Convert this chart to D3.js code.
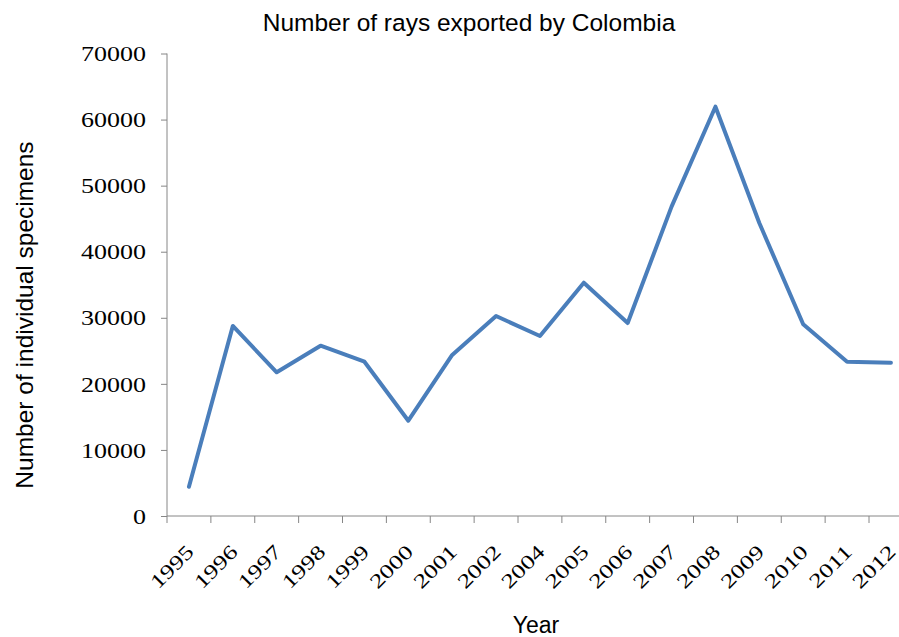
<!DOCTYPE html>
<html>
<head>
<meta charset="utf-8">
<script src="https://cdn.jsdelivr.net/npm/d3@7"></script>
<style>
  html, body { margin: 0; padding: 0; background: #fff; }
  svg { display: block; }
</style>
</head>
<body>
<svg id="chart" width="899" height="637"></svg>
<script>
'use strict';

// data
var years = ['1995', '1996', '1997', '1998', '1999', '2000', '2001', '2002', '2004',
             '2005', '2006', '2007', '2008', '2009', '2010', '2011', '2012'];
var specimens = [4430, 28760, 21750, 25780, 23350, 14420, 24370, 30270, 27240,
                 35310, 29210, 46820, 61950, 44350, 29010, 23350, 23200];
var yTicks = [0, 10000, 20000, 30000, 40000, 50000, 60000, 70000];

var titleText = 'Number of rays exported by Colombia';
var xTitle = 'Year';
var yTitle = 'Number of individual specimens';

var svg = d3.select('#chart');
var axisColor = '#868686';
var lineColor = '#4a7ebb';
var stretch = 1.3; // tick labels look horizontally widened
var serif = '"Liberation Serif", "Times New Roman", serif';
var sans = '"Liberation Sans", Arial, sans-serif';

var plotLeft = 167, plotBottom = 516, plotTop = 53.5, step = 43.875;

var x = d3.scaleBand()
  .domain(years)
  .range([plotLeft, plotLeft + step * years.length])
  .paddingInner(0)
  .paddingOuter(0);

var y = d3.scaleLinear()
  .domain([0, 70000])
  .range([plotBottom, plotTop]);

// y axis
var yAxis = svg.append('g')
  .attr('transform', 'translate(' + plotLeft + ',0)')
  .call(d3.axisLeft(y)
    .tickValues(yTicks)
    .tickFormat(d3.format('d'))
    .tickSize(6)
    .tickSizeOuter(0)
    .tickPadding(0));
yAxis.select('.domain').attr('stroke', axisColor).attr('d', 'M0,' + plotTop + 'V' + plotBottom);
yAxis.selectAll('.tick line').attr('stroke', axisColor);
yAxis.selectAll('.tick text')
  .attr('x', null)
  .attr('dy', '0.36em')
  .attr('transform', 'translate(-21,0) scale(' + stretch + ',1)')
  .style('font-family', serif)
  .style('font-size', '20px')
  .attr('fill', '#000');

// x axis: ticks sit on band boundaries, labels on band centres
var xg = svg.append('g');
xg.append('line')
  .attr('x1', plotLeft).attr('x2', x.range()[1])
  .attr('y1', plotBottom).attr('y2', plotBottom)
  .attr('stroke', axisColor);
xg.selectAll('line.tick')
  .data(years.concat(['end']))
  .enter().append('line')
  .attr('class', 'tick')
  .attr('x1', function(d, i) { return x.range()[0] + i * x.step(); })
  .attr('x2', function(d, i) { return x.range()[0] + i * x.step(); })
  .attr('y1', plotBottom).attr('y2', plotBottom + 7)
  .attr('stroke', axisColor);
xg.selectAll('text')
  .data(years)
  .enter().append('text')
  .attr('transform', function(d) {
    return 'translate(' + (x(d) + x.bandwidth() / 2 + 1) + ',' + (plotBottom + 32) +
      ') rotate(-45) scale(' + stretch + ',1)';
  })
  .attr('text-anchor', 'end')
  .attr('dy', '0.36em')
  .style('font-family', serif)
  .style('font-size', '20px')
  .text(function(d) { return d; });

// the series line
var line = d3.line()
  .x(function(d, i) { return x(years[i]) + x.bandwidth() / 2; })
  .y(function(d) { return y(d); });

svg.append('path')
  .datum(specimens)
  .attr('fill', 'none')
  .attr('stroke', lineColor)
  .attr('stroke-width', 4)
  .attr('stroke-linejoin', 'round')
  .attr('stroke-linecap', 'round')
  .attr('d', line);

// titles
svg.append('text')
  .attr('x', 469).attr('y', 31)
  .attr('text-anchor', 'middle')
  .style('font-family', sans).style('font-size', '24.5px')
  .text(titleText);

svg.append('text')
  .attr('x', 536).attr('y', 633)
  .attr('text-anchor', 'middle')
  .style('font-family', sans).style('font-size', '23px')
  .text(xTitle);

svg.append('text')
  .attr('transform', 'translate(33,315) rotate(-90)')
  .attr('text-anchor', 'middle')
  .style('font-family', sans).style('font-size', '24.5px')
  .text(yTitle);
</script>
</body>
</html>
